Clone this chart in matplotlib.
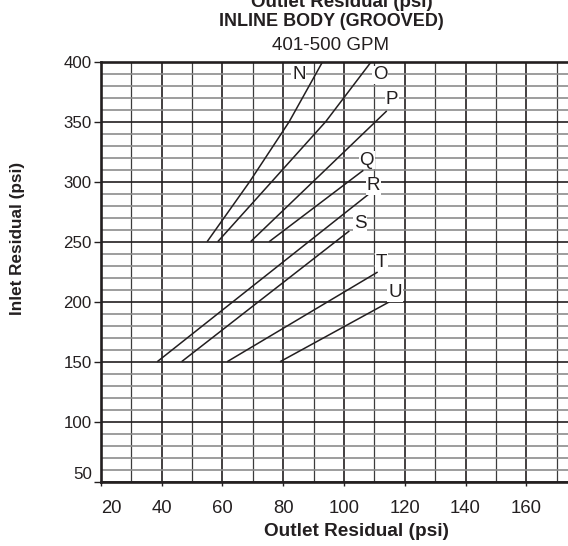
import matplotlib.pyplot as plt
from matplotlib.ticker import MultipleLocator

plt.rcParams['font.family'] = ['Liberation Sans', 'DejaVu Sans']

ink = '#231f20'

# curve letters and the points (outlet psi, inlet psi)
curveNames = ["N", "O", "P", "Q", "R", "S", "T", "U"]
nOutlet = [55, 69, 82, 93]
nInlet = [250, 300, 350, 400]
oOutlet = [58.5, 94, 109]
oInlet = [250, 350, 400]
pOutlet = [69.3, 114.1]
pInlet = [250, 359]
qOutlet = [75.4, 106.4]
qInlet = [250, 309.5]
rOutlet = [38.6, 108]
rInlet = [150, 289.3]
sOutlet = [46.6, 101.8]
sInlet = [150, 259]
tOutlet = [61.6, 111.1]
tInlet = [150, 224.7]
uOutlet = [79, 114.9]
uInlet = [150, 199.8]

# where each letter sits
labelOutlet = [85.2, 111.9, 115.7, 107.5, 109.7, 105.3, 112.4, 116.8]
labelInlet = [389, 389, 368.5, 318, 296.5, 265.5, 233, 207.5]

xTicks = [20, 40, 60, 80, 100, 120, 140, 160]
yTicks = [50, 100, 150, 200, 250, 300, 350, 400]

outletList = [nOutlet, oOutlet, pOutlet, qOutlet, rOutlet, sOutlet, tOutlet, uOutlet]
inletList = [nInlet, oInlet, pInlet, qInlet, rInlet, sInlet, tInlet, uInlet]

fig = plt.figure(figsize=(5.68, 5.46), dpi=100)
ax = fig.add_axes([100.7 / 568, 64.3 / 546, 1 - 100.7 / 568, 420 / 546])

ax.set_xlim(20, 20 + (568 - 100.7) / 3.04)
ax.set_ylim(50, 400)

# grid paper
ax.set_xticks(xTicks)
ax.set_yticks(yTicks)
ax.xaxis.set_minor_locator(MultipleLocator(10))
ax.yaxis.set_minor_locator(MultipleLocator(10))
ax.set_axisbelow(True)
ax.grid(which='minor', axis='y', color='#8c8c8c', lw=1.2)
ax.grid(which='minor', axis='x', color='#3c3c3c', lw=0.9)
ax.grid(which='major', color=ink, lw=1.2)

for side in ['top', 'left', 'bottom']:
    ax.spines[side].set_linewidth(1.9)
    ax.spines[side].set_color(ink)
ax.spines['right'].set_visible(False)

ax.tick_params(which='minor', length=0)
ax.tick_params(axis='y', which='major', length=5, width=1, color=ink, pad=1.5,
               labelsize=12.2, labelcolor=ink)
ax.tick_params(axis='x', which='major', length=3, width=1, color=ink, pad=10.5,
               labelsize=13.3, labelcolor=ink)

ax.set_xticklabels([str(v) for v in xTicks])
ax.set_yticklabels([str(v) for v in yTicks])
ax.get_xticklabels()[0].set_horizontalalignment('left')
ax.get_yticklabels()[0].set_verticalalignment('bottom')

# curves
for xs, ys in zip(outletList, inletList):
    ax.plot(xs, ys, color=ink, lw=1.1, solid_capstyle='butt')

for name, lx, ly in zip(curveNames, labelOutlet, labelInlet):
    ax.text(lx, ly, name, ha='center', va='center', fontsize=13.5, color=ink,
            bbox=dict(facecolor='white', edgecolor='none', pad=0.6))

ax.set_xlabel("Outlet Residual (psi)", fontsize=13.7, fontweight='bold', color=ink)
ax.xaxis.set_label_coords((356 - 100.7) / (568 - 100.7), -(531.7 - 481.7) / 420)
ax.xaxis.label.set_va('center')
ax.set_ylabel("Inlet Residual (psi)", fontsize=12.3, fontweight='bold', color=ink)
ax.yaxis.set_label_coords(-(100.7 - 18) / (568 - 100.7), (481.7 - 238) / 420)
ax.yaxis.label.set_va('center')

# titles (the top one is cut off by the image edge, as in the source)
fig.text(342 / 568, 1 - 7 / 546, "Outlet Residual (psi)", ha='center', va='baseline',
         fontsize=13.5, fontweight='bold', color=ink)
fig.text(331 / 568, 1 - 21.7 / 546, "INLINE BODY (GROOVED)", ha='center', va='center',
         fontsize=13, fontweight='bold', color=ink)
fig.text(331 / 568, 1 - 45 / 546, "401-500 GPM", ha='center', va='center',
         fontsize=13.5, color=ink)

fig.savefig("out.png", dpi=100)
